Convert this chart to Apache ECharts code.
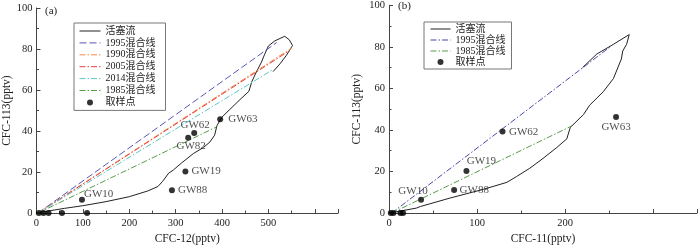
<!DOCTYPE html>
<html>
<head>
<meta charset="utf-8">
<script src="https://cdn.jsdelivr.net/npm/echarts@6/dist/echarts.min.js"></script>
<style>html,body{margin:0;padding:0;background:#fff}#c{width:700px;height:250px}</style>
</head>
<body>
<div id="c"></div>
<script>
// ---- Panel (a): CFC-12 vs CFC-113 ----
const pistonA = [[0,0],[30,1.2],[60,2.3],[100,3.6],[150,5.6],[200,8],[240,10.8],[262,13],[272,15.5],[285,19.5],[295,21],[313,24.5],[338,29],[360,32],[374,34.7],[384,38],[389,42.6],[399,46.6],[417,50.6],[439,55.4],[458,59.4],[464,64],[474,68.8],[485,73.6],[492,77.5],[500,81.5],[514,84],[535,86.2],[545,84.5],[552,81.7],[539,77],[525,72.8],[510,69]];
const mix1995A = [[3,0],[518,83.2]];
const mix1990A = [[3,0],[550,80.5]];
const mix2005A = [[3,0],[546,79.3]];
const mix2014A = [[3,0],[510,70]];
const mix1985A = [[3,0],[388,42]];
const samplesA = [['GW10',98,6.5],['GW88',292,11.1],['GW19',321,20.3],['GW82',327,36.7],['GW62',340,39],['GW63',396,45.8]];
const zerosA = [[5,0],[15,0],[26,0],[55,0],[109,0]];

// ---- Panel (b): CFC-11 vs CFC-113 ----
const pistonB = [[0,0],[31,2.4],[36,3.2],[69,7.2],[107,11.4],[134,14.8],[145,17.6],[160,21.6],[175,26.3],[190.5,31.5],[202,35.7],[206,41.2],[221,47.4],[228,51.9],[243.5,58.4],[255,64.7],[264,74.1],[265.6,78],[270,81.2],[273,85.9],[272,86.7],[255,81.2],[236,76.5],[220,70]];
const mix1995B = [[3,0],[252,80.2]];
const mix1985B = [[3,0],[208,42]];
const samplesB = [['GW10',36.4,6.4],['GW88',74,11.1],['GW19',88,20.3],['GW62',129,39.2],['GW63',258,46.2]];
const zerosB = [[2,0],[5,0],[13,0],[16,0]];

const xTicksA = [0,100,200,300,400,500,600];
const xTicksB = [0,100,200,300];
const yTicks = [0,20,40,60,80,100];

const FONT = "'Liberation Serif','Times New Roman','Noto Sans CJK SC',serif";
const TXT = '#222';

const labelPosA = {
  GW10:{position:'right',distance:5,offset:[-6,-6]},
  GW88:{position:'right',distance:3},
  GW19:{position:'right',distance:3},
  GW82:{position:'bottom',distance:0,offset:[3,0]},
  GW62:{position:'top',distance:0,offset:[1,0]},
  GW63:{position:'right',distance:5}
};
const labelPosB = {
  GW10:{position:'top',distance:0,offset:[-8,0]},
  GW88:{position:'right',distance:2.5},
  GW19:{position:'top',distance:1,offset:[15,0]},
  GW62:{position:'right',distance:3.5},
  GW63:{position:'bottom',distance:2}
};

function sampleData(list, zeros, pos){
  const d = list.map(s => ({value:[s[1],s[2]], name:s[0],
    label:Object.assign({show:true, formatter:s[0], color:TXT, fontFamily:FONT, fontSize:11}, pos[s[0]])}));
  zeros.forEach(z => d.push({value:z, label:{show:false}}));
  return d;
}

function xAxis(idx, max, name, ticks){
  return {
    gridIndex: idx, type:'value', min:0, max:max, interval:100,
    name:name, nameLocation:'middle', nameGap:20,
    nameTextStyle:{color:TXT, fontFamily:FONT, fontSize:11.5},
    axisLine:{show:true, lineStyle:{color:'#444', width:1}},
    axisTick:{show:true, inside:true, length:4, lineStyle:{color:'#444'}},
    minorTick:{show:true, splitNumber:2, length:2.5, lineStyle:{color:'#444'}},
    splitLine:{show:false}, minorSplitLine:{show:false},
    axisLabel:{color:TXT, fontFamily:FONT, fontSize:10.5, margin:5, showMaxLabel:false,
      customValues: ticks}
  };
}
function yAxis(idx, name, gap){
  return {
    gridIndex: idx, type:'value', min:0, max:100, interval:20,
    name:name, nameLocation:'middle', nameGap:gap,
    nameTextStyle:{color:TXT, fontFamily:FONT, fontSize:11.5},
    axisLine:{show:true, lineStyle:{color:'#444', width:1}},
    axisTick:{show:true, inside:true, length:4, lineStyle:{color:'#444'}},
    minorTick:{show:true, splitNumber:2, length:2.5, lineStyle:{color:'#444'}},
    splitLine:{show:false}, minorSplitLine:{show:false},
    axisLabel:{color:TXT, fontFamily:FONT, fontSize:10.5, margin:4, customValues: yTicks}
  };
}

function lineSeries(name, data, color, type, xi){
  return {name:name, type:'line', xAxisIndex:xi, yAxisIndex:xi, data:data,
    symbol:'none', showSymbol:false, smooth:false, animation:false,
    lineStyle:{color:color, width:1, type:type}, itemStyle:{color:color, opacity:0}, z:2};
}
const DD = [6,2,1.5,2];

const chart = echarts.init(document.getElementById('c'), null, {renderer:'canvas'});
const option = {
  animation:false,
  backgroundColor:'#fff',
  grid:[
    {left:36, top:8, width:302, height:209.5},
    {left:389, top:4.5, width:308, height:213}
  ],
  xAxis:[xAxis(0,650,'CFC-12(pptv)',xTicksA), xAxis(1,350,'CFC-11(pptv)',xTicksB)],
  yAxis:[yAxis(0,'CFC-113(pptv)',24), yAxis(1,'CFC-113(pptv)',26)],
  legend:[
    {data:['活塞流','1995混合线','1990混合线','2005混合线','2014混合线','1985混合线','取样点'],
     orient:'vertical', left:74, top:23, padding:[3,10,3,5], itemGap:1.9,
     itemWidth:21, itemHeight:6, selectedMode:false,
     borderColor:'#777', borderWidth:1, borderRadius:0,
     lineStyle:{width:1},
     textStyle:{color:TXT, fontFamily:FONT, fontSize:10, lineHeight:10}},
    {data:['b:活塞流','b:1995混合线','b:1985混合线','b:取样点'],
     orient:'vertical', left:424, top:22, padding:[2,6,2,6], itemGap:1,
     itemWidth:20, itemHeight:6, selectedMode:false,
     borderColor:'#777', borderWidth:1, borderRadius:0,
     lineStyle:{width:1},
     formatter: n => n.replace(/^b:/,''),
     textStyle:{color:TXT, fontFamily:FONT, fontSize:10, lineHeight:10}}
  ],
  graphic:[
    {type:'text', left:45, top:6, style:{text:'(a)', fill:TXT, font:"11px 'Liberation Serif'"}},
    {type:'text', left:398, top:1, style:{text:'(b)', fill:TXT, font:"11px 'Liberation Serif'"}}
  ],
  series:[
    lineSeries('活塞流', pistonA, '#222', 'solid', 0),
    lineSeries('1995混合线', mix1995A, '#5656b8', [7,3], 0),
    lineSeries('1990混合线', mix1990A, '#f58a4a', DD, 0),
    lineSeries('2005混合线', mix2005A, '#e6423a', DD, 0),
    lineSeries('2014混合线', mix2014A, '#5cc6c6', DD, 0),
    lineSeries('1985混合线', mix1985A, '#5a9a48', DD, 0),
    {name:'取样点', type:'scatter', xAxisIndex:0, yAxisIndex:0, symbol:'circle', symbolSize:6,
     itemStyle:{color:'#000'}, data:sampleData(samplesA, zerosA, labelPosA), z:5},
    lineSeries('b:活塞流', pistonB, '#222', 'solid', 1),
    lineSeries('b:1995混合线', mix1995B, '#4848a8', DD, 1),
    lineSeries('b:1985混合线', mix1985B, '#5a9a48', DD, 1),
    {name:'b:取样点', type:'scatter', xAxisIndex:1, yAxisIndex:1, symbol:'circle', symbolSize:6,
     itemStyle:{color:'#000'}, data:sampleData(samplesB, zerosB, labelPosB), z:5}
  ]
};
chart.setOption(option);
</script>
</body>
</html>
